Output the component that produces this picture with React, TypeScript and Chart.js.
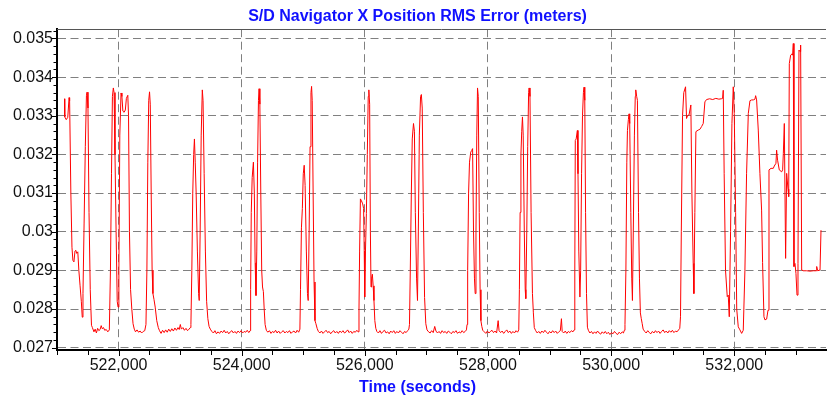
import React, { useEffect, useRef } from 'react';
import { Chart, registerables } from 'chart.js';

Chart.register(...registerables);

const TITLE = 'S/D Navigator X Position RMS Error (meters)';
const X_TITLE = 'Time (seconds)';
const FONT = '"Liberation Sans", Arial, Helvetica, sans-serif';

const X_MIN = 521000;
const X_MAX = 533490;
const Y_MIN = 0.02694;
const Y_MAX = 0.03524;

const xMajorTicks = [522000, 524000, 526000, 528000, 530000, 532000];
const yMajorTicks = [0.027, 0.028, 0.029, 0.03, 0.031, 0.032, 0.033, 0.034, 0.035];
const X_MINOR_STEP = 500;
const Y_MINOR_PER_UNIT = 5000; // minor tick every 0.0002

// Time (s)
const timeSec = [
  521122, 521126, 521150, 521175, 521196, 521205, 521225, 521243, 521258, 521275, 521292, 521306, 521320, 521338, 521355, 521375, 521395, 521410, 521422, 521440, 521460, 521478, 521488, 521503, 521520, 521540, 521560,
  521575, 521600, 521620, 521640, 521660, 521680, 521700, 521718, 521735, 521755, 521775, 521800, 521825, 521850,
  521868, 521885, 521900, 521915, 521927, 521942, 521960, 521978, 521992, 522005, 522020, 522040, 522054, 522070, 522090, 522110, 522127, 522150, 522162, 522177, 522195, 522215, 522235, 522255,
  522275, 522300, 522325, 522350, 522375, 522400, 522425,
  522445, 522460, 522475, 522490, 522503, 522515, 522530, 522545, 522558, 522575, 522595, 522620, 522645,
  522665, 522690, 522715, 522740, 522765, 522790, 522815, 522840, 522865, 522890, 522915, 522940, 522965, 522985, 523003, 523020, 523045, 523070, 523095, 523120, 523145, 523165,
  523175, 523190, 523205, 523220, 523232, 523245, 523260, 523280, 523300, 523310, 523325, 523342, 523360, 523372, 523390, 523410, 523430, 523450, 523470, 523490,
  523515, 523540, 523565, 523590, 523615, 523640, 523665, 523690, 523715, 523740, 523765, 523790, 523815, 523840, 523865, 523890, 523915, 523940, 523965, 523990, 524015, 524040, 524065, 524090, 524115, 524135,
  524145, 524155, 524170, 524190, 524205, 524218, 524232, 524245, 524258, 524272, 524282, 524295, 524310, 524325, 524338, 524352, 524365, 524380, 524400,
  524425, 524450, 524475, 524500, 524525, 524550, 524575, 524600, 524625, 524650, 524675, 524700, 524725, 524750, 524775, 524800, 524825, 524850, 524875, 524900, 524925, 524945,
  524955, 524970, 524985, 525000, 525015, 525030, 525050, 525068, 525080, 525095, 525110, 525125, 525135, 525145, 525160, 525175, 525190, 525205, 525225, 525245,
  525270, 525295, 525320, 525345, 525370, 525395, 525420, 525445, 525470, 525495, 525520, 525545, 525570, 525595, 525620, 525645, 525670, 525695, 525720, 525745, 525770, 525795, 525820, 525845, 525870, 525890,
  525905, 525915, 525928, 525945, 525965, 525980, 525990, 525998, 526010, 526025, 526040, 526055, 526065, 526078, 526090, 526100, 526110, 526122, 526135, 526148, 526162, 526178, 526195,
  526220, 526245, 526270, 526295, 526320, 526345, 526370, 526395, 526420, 526445, 526470, 526495, 526520, 526545, 526570, 526595, 526620, 526645, 526670, 526695, 526715,
  526725, 526738, 526755, 526770, 526790, 526805, 526820, 526840, 526855, 526870, 526885, 526905, 526918, 526932, 526950, 526970, 526990, 527010,
  527035, 527060, 527085, 527110, 527135, 527155, 527180, 527205, 527230, 527255, 527280, 527305, 527330, 527355, 527380, 527405, 527430, 527455, 527480, 527505, 527530, 527555, 527580, 527605, 527630, 527650,
  527660, 527670, 527685, 527700, 527720, 527735, 527750, 527765, 527780, 527792, 527805, 527818, 527830, 527842, 527858, 527872, 527885, 527900, 527915,
  527940, 527965, 527990, 528015, 528040, 528065, 528090, 528115, 528140, 528165, 528180, 528205, 528230, 528255, 528280, 528305, 528330, 528355, 528380, 528405, 528430, 528455, 528480, 528500,
  528510, 528522, 528535, 528548, 528560, 528572, 528590, 528605, 528614, 528630, 528645, 528660, 528668, 528682, 528700, 528722, 528737, 528752,
  528775, 528800, 528825, 528850, 528875, 528900, 528925, 528950, 528975, 529000, 529025, 529050, 529075, 529100, 529125, 529150, 529175, 529193, 529205, 529230, 529255, 529280, 529305, 529330, 529355, 529380, 529400,
  529410, 529418, 529432, 529452, 529462, 529475, 529493, 529505, 529520, 529535, 529550, 529560, 529572, 529585, 529600, 529615, 529630,
  529655, 529680, 529705, 529730, 529755, 529780, 529805, 529830, 529855, 529880, 529905, 529930, 529955, 529980, 530005, 530030, 530055, 530080, 530105, 530130, 530155, 530180, 530200, 530215,
  530225, 530240, 530255, 530265, 530280, 530291, 530302, 530320, 530335, 530346, 530360, 530378, 530392, 530400, 530415, 530427, 530445, 530460, 530475, 530490, 530505, 530520,
  530545, 530570, 530595, 530620, 530645, 530670, 530695, 530720, 530745, 530770, 530795, 530820, 530845, 530870, 530895, 530920, 530945, 530970, 530995, 531020, 531045, 531070, 531095, 531115,
  531127, 531140, 531160, 531180, 531209, 531225, 531240, 531265, 531295, 531312, 531333, 531344, 531360, 531377, 531415, 531442, 531469, 531496, 531523, 531550, 531600, 531650, 531700, 531750, 531790, 531810, 531821,
  531836, 531858, 531886, 531902, 531919, 531940, 531962, 531984, 532000, 532022, 532040, 532065, 532092, 532120, 532146, 532173, 532200, 532228, 532255, 532282, 532309, 532336, 532347, 532363,
  532390, 532417, 532444, 532460, 532482, 532498, 532526, 532548, 532564, 532597, 532634, 532650, 532677, 532688, 532704, 532731, 532770, 532786, 532797, 532813, 532834, 532851, 532873, 532884, 532894,
  532916, 532938, 532948, 532959, 532970, 532986, 533002, 533019, 533035, 533051, 533068, 533078, 533095, 533122, 533176, 533230, 533285, 533328, 533339, 533355, 533393, 533409,
];

// RMS error (m)
const rmsError = [
  0.03344, 0.03297, 0.03290, 0.03296, 0.03347, 0.03338, 0.03100, 0.02960, 0.02926, 0.02922, 0.02950, 0.02952, 0.02944, 0.02948, 0.02900, 0.02860, 0.02820, 0.02779, 0.02840, 0.03020, 0.03220, 0.03352, 0.03361, 0.03320, 0.03050, 0.02850, 0.02758,
  0.02752, 0.02741, 0.02748, 0.02738, 0.02750, 0.02744, 0.02747, 0.02757, 0.02749, 0.02752, 0.02745, 0.02747, 0.02741, 0.02746,
  0.02900, 0.03150, 0.03350, 0.03372, 0.03360, 0.03200, 0.03000, 0.02820, 0.02805, 0.02900, 0.03250, 0.03359, 0.03350, 0.03312, 0.03309, 0.03315, 0.03345, 0.03353, 0.03300, 0.03000, 0.02850, 0.02800, 0.02762, 0.02748,
  0.02741, 0.02746, 0.02740, 0.02743, 0.02738, 0.02742, 0.02744,
  0.02760, 0.02900, 0.03180, 0.03340, 0.03362, 0.03330, 0.03100, 0.02900, 0.02840, 0.02825, 0.02805, 0.02770, 0.02752,
  0.02744, 0.02737, 0.02745, 0.02739, 0.02746, 0.02740, 0.02748, 0.02742, 0.02749, 0.02743, 0.02751, 0.02745, 0.02752, 0.02747, 0.02760, 0.02748, 0.02752, 0.02745, 0.02750, 0.02744, 0.02748, 0.02752,
  0.02760, 0.02900, 0.03100, 0.03200, 0.03240, 0.03180, 0.03100, 0.02950, 0.02840, 0.02822, 0.03000, 0.03250, 0.03367, 0.03340, 0.03150, 0.02950, 0.02820, 0.02775, 0.02755, 0.02748,
  0.02742, 0.02738, 0.02744, 0.02736, 0.02741, 0.02737, 0.02743, 0.02739, 0.02745, 0.02738, 0.02742, 0.02736, 0.02741, 0.02744, 0.02738, 0.02742, 0.02737, 0.02743, 0.02739, 0.02744, 0.02738, 0.02742, 0.02740, 0.02745, 0.02739, 0.02744,
  0.02850, 0.03050, 0.03140, 0.03180, 0.03100, 0.02920, 0.02835, 0.02950, 0.03180, 0.03340, 0.03370, 0.03330, 0.03100, 0.02900, 0.02857, 0.02845, 0.02800, 0.02760, 0.02745,
  0.02740, 0.02744, 0.02737, 0.02742, 0.02739, 0.02745, 0.02738, 0.02743, 0.02737, 0.02741, 0.02744, 0.02738, 0.02742, 0.02739, 0.02744, 0.02737, 0.02741, 0.02743, 0.02738, 0.02745, 0.02740, 0.02748,
  0.02850, 0.03010, 0.03060, 0.03150, 0.03172, 0.03120, 0.02950, 0.02840, 0.02822, 0.03000, 0.03220, 0.03360, 0.03376, 0.03340, 0.03100, 0.02870, 0.02770, 0.02762, 0.02750, 0.02742,
  0.02738, 0.02743, 0.02737, 0.02741, 0.02745, 0.02739, 0.02742, 0.02736, 0.02741, 0.02744, 0.02738, 0.02742, 0.02737, 0.02743, 0.02739, 0.02744, 0.02738, 0.02741, 0.02746, 0.02739, 0.02743, 0.02737, 0.02742, 0.02740, 0.02745, 0.02741,
  0.02800, 0.02950, 0.03085, 0.03080, 0.03072, 0.03060, 0.02950, 0.02831, 0.02950, 0.03047, 0.03200, 0.03350, 0.03367, 0.03330, 0.03000, 0.02857, 0.02880, 0.02890, 0.02860, 0.02822, 0.02770, 0.02750, 0.02742,
  0.02738, 0.02744, 0.02737, 0.02742, 0.02745, 0.02738, 0.02741, 0.02736, 0.02743, 0.02739, 0.02744, 0.02737, 0.02742, 0.02738, 0.02744, 0.02740, 0.02736, 0.02742, 0.02739, 0.02744, 0.02748,
  0.02760, 0.02900, 0.03100, 0.03240, 0.03280, 0.03260, 0.03050, 0.02880, 0.02822, 0.03020, 0.03250, 0.03350, 0.03355, 0.03320, 0.03050, 0.02830, 0.02762, 0.02746,
  0.02741, 0.02738, 0.02744, 0.02739, 0.02755, 0.02743, 0.02738, 0.02742, 0.02737, 0.02744, 0.02739, 0.02742, 0.02737, 0.02743, 0.02740, 0.02736, 0.02742, 0.02739, 0.02744, 0.02737, 0.02741, 0.02738, 0.02744, 0.02739, 0.02742, 0.02746,
  0.02760, 0.02900, 0.03100, 0.03180, 0.03206, 0.03210, 0.03215, 0.03000, 0.02880, 0.02840, 0.03000, 0.03250, 0.03372, 0.03350, 0.03050, 0.02850, 0.02770, 0.02755, 0.02745,
  0.02741, 0.02737, 0.02743, 0.02738, 0.02742, 0.02745, 0.02739, 0.02743, 0.02738, 0.02770, 0.02744, 0.02739, 0.02743, 0.02737, 0.02742, 0.02746, 0.02739, 0.02743, 0.02737, 0.02742, 0.02738, 0.02744, 0.02740, 0.02746,
  0.02850, 0.03050, 0.03200, 0.03260, 0.03297, 0.03250, 0.03000, 0.02850, 0.02827, 0.03000, 0.03220, 0.03360, 0.03372, 0.03350, 0.03050, 0.02840, 0.02790, 0.02752,
  0.02744, 0.02738, 0.02742, 0.02737, 0.02743, 0.02739, 0.02745, 0.02740, 0.02736, 0.02742, 0.02738, 0.02744, 0.02739, 0.02743, 0.02737, 0.02741, 0.02744, 0.02775, 0.02742, 0.02738, 0.02743, 0.02737, 0.02742, 0.02739, 0.02744, 0.02741, 0.02746,
  0.02900, 0.03236, 0.03240, 0.03262, 0.03150, 0.02950, 0.02831, 0.02900, 0.03150, 0.03300, 0.03360, 0.03374, 0.03340, 0.03050, 0.02840, 0.02753, 0.02745,
  0.02738, 0.02742, 0.02736, 0.02741, 0.02737, 0.02743, 0.02738, 0.02735, 0.02741, 0.02737, 0.02742, 0.02736, 0.02740, 0.02734, 0.02739, 0.02736, 0.02742, 0.02737, 0.02734, 0.02740, 0.02736, 0.02741, 0.02738, 0.02745,
  0.02760, 0.02900, 0.03180, 0.03262, 0.03290, 0.03305, 0.03280, 0.03050, 0.02880, 0.02822, 0.03000, 0.03250, 0.03350, 0.03367, 0.03350, 0.03340, 0.03050, 0.02880, 0.02790, 0.02775, 0.02762, 0.02748,
  0.02742, 0.02738, 0.02744, 0.02739, 0.02736, 0.02742, 0.02738, 0.02744, 0.02739, 0.02743, 0.02737, 0.02742, 0.02746, 0.02739, 0.02743, 0.02738, 0.02744, 0.02740, 0.02745, 0.02739, 0.02743, 0.02741, 0.02746, 0.02750,
  0.02780, 0.03000, 0.03300, 0.03360, 0.03375, 0.03293, 0.03300, 0.03302, 0.03328, 0.03100, 0.02918, 0.02840, 0.03050, 0.03259, 0.03263, 0.03265, 0.03272, 0.03280, 0.03336, 0.03342, 0.03344, 0.03342, 0.03345, 0.03343, 0.03344, 0.03345, 0.03366,
  0.03150, 0.02900, 0.02832, 0.02836, 0.02780, 0.03000, 0.03280, 0.03375, 0.03306, 0.03050, 0.02800, 0.02754, 0.02746, 0.02737, 0.02745, 0.02900, 0.03150, 0.03306, 0.03339, 0.03341, 0.03341, 0.03343, 0.03352, 0.03341,
  0.03263, 0.03150, 0.03056, 0.02920, 0.02780, 0.02772, 0.02774, 0.02797, 0.03160, 0.03164, 0.03164, 0.03170, 0.03177, 0.03211, 0.03185, 0.03160, 0.03155, 0.03160, 0.03203, 0.03280, 0.02931, 0.03151, 0.03110, 0.03091, 0.03435,
  0.03457, 0.03460, 0.03457, 0.03487, 0.02910, 0.02918, 0.02892, 0.02836, 0.02918, 0.03470, 0.03466, 0.03483, 0.02901, 0.02899, 0.02899, 0.02898, 0.02899, 0.02899, 0.02910, 0.02899, 0.02901, 0.03004,
];

const FONT_SIZE = 16;

function isMajorX(v: number) {
  return xMajorTicks.some((t) => Math.abs(t - v) < 1e-6);
}
function isMajorY(v: number) {
  return yMajorTicks.some((t) => Math.abs(t - v) < 1e-9);
}

const decorPlugin = {
  id: 'decor',
  afterDraw(chart: any) {
    const { ctx, chartArea: a, scales } = chart;
    const xs = scales.x;
    const ys = scales.y;
    ctx.save();
    // top frame line
    ctx.strokeStyle = '#555555';
    ctx.lineWidth = 1;
    const ty = Math.round(a.top) + 0.5;
    ctx.beginPath();
    ctx.moveTo(a.left, ty);
    ctx.lineTo(a.right, ty);
    ctx.stroke();
    // tick marks
    ctx.strokeStyle = '#000000';
    ctx.lineWidth = 1;
    const bottom = Math.round(a.bottom) + 1;
    for (const t of xs.ticks) {
      const px = Math.round(xs.getPixelForValue(t.value)) + 0.5;
      const len = isMajorX(t.value) ? 5 : 4;
      ctx.beginPath();
      ctx.moveTo(px, bottom);
      ctx.lineTo(px, bottom + len);
      ctx.stroke();
    }
    const left = Math.round(a.left) - 1;
    for (const t of ys.ticks) {
      const py = Math.round(ys.getPixelForValue(t.value)) + 0.5;
      const len = isMajorY(t.value) ? 4 : 2.5;
      ctx.beginPath();
      ctx.moveTo(left, py);
      ctx.lineTo(left - len, py);
      ctx.stroke();
    }
    // x-axis title
    ctx.fillStyle = '#1010ff';
    ctx.font = `bold ${FONT_SIZE}px ${FONT}`;
    ctx.textAlign = 'center';
    ctx.textBaseline = 'middle';
    ctx.fillText(X_TITLE, 417.5, 387.5);
    ctx.restore();
  },
};

export default function App() {
  const ref = useRef<HTMLCanvasElement>(null);

  useEffect(() => {
    const canvas = ref.current;
    if (!canvas) return;
    const points = timeSec.map((t, i) => ({ x: t, y: rmsError[i] }));

    const xTickValues: { value: number }[] = [];
    for (let v = X_MIN; v <= X_MAX; v += X_MINOR_STEP) xTickValues.push({ value: v });
    const yTickValues: { value: number }[] = [];
    for (let k = Math.ceil(Y_MIN * Y_MINOR_PER_UNIT); k <= Math.floor(Y_MAX * Y_MINOR_PER_UNIT); k++) {
      yTickValues.push({ value: k / Y_MINOR_PER_UNIT });
    }

    const chart = new Chart(canvas, {
      type: 'line',
      data: {
        datasets: [
          {
            data: points,
            borderColor: '#ff0000',
            borderWidth: 1,
            pointRadius: 0,
            tension: 0,
            fill: false,
          },
        ],
      },
      options: {
        animation: false,
        responsive: false,
        devicePixelRatio: 1,
        parsing: true,
        layout: { padding: { left: 9, right: 1, top: 0, bottom: 0 } },
        plugins: {
          legend: { display: false },
          tooltip: { enabled: false },
          title: {
            display: true,
            text: TITLE,
            color: '#1010ff',
            font: { family: FONT, size: FONT_SIZE, weight: 'bold' },
            padding: { top: 7, bottom: 3 },
          },
        },
        scales: {
          x: {
            type: 'linear',
            min: X_MIN,
            max: X_MAX,
            afterBuildTicks: (scale: any) => {
              scale.ticks = xTickValues.map((t) => ({ ...t }));
            },
            afterFit: (scale: any) => {
              scale.height = 48;
            },
            ticks: {
              autoSkip: false,
              maxRotation: 0,
              minRotation: 0,
              padding: 6,
              color: '#111111',
              font: { family: FONT, size: FONT_SIZE },
              callback: (v: any) => (isMajorX(Number(v)) ? Number(v).toLocaleString('en-US') : ''),
            },
            grid: {
              drawTicks: false,
              lineWidth: 1,
              color: (c: any) => (c.tick && isMajorX(c.tick.value) ? '#808080' : 'rgba(0,0,0,0)'),
            },
            border: { display: true, color: '#000000', width: 2, dash: [8, 4.5] },
          },
          y: {
            type: 'linear',
            min: Y_MIN,
            max: Y_MAX,
            afterBuildTicks: (scale: any) => {
              scale.ticks = yTickValues.map((t) => ({ ...t }));
            },
            afterFit: (scale: any) => {
              scale.width = 48;
            },
            ticks: {
              autoSkip: false,
              padding: 4,
              color: '#111111',
              font: { family: FONT, size: FONT_SIZE },
              callback: (v: any) => {
                const m = yMajorTicks.find((t) => Math.abs(t - Number(v)) < 1e-9);
                return m !== undefined ? String(m) : '';
              },
            },
            grid: {
              drawTicks: false,
              lineWidth: 1,
              color: (c: any) => (c.tick && isMajorY(c.tick.value) ? '#808080' : 'rgba(0,0,0,0)'),
            },
            border: { display: true, color: '#000000', width: 2, dash: [8, 4.5] },
          },
        },
      },
      plugins: [decorPlugin],
    } as any);

    return () => chart.destroy();
  }, []);

  return (
    <div style={{ position: 'absolute', left: 0, top: 0, width: 827, height: 398, background: '#ffffff' }}>
      <canvas ref={ref} width={827} height={398} style={{ display: 'block', width: 827, height: 398 }} />
    </div>
  );
}
